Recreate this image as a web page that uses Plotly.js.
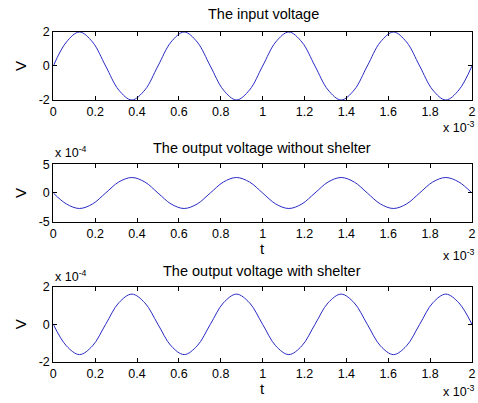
<!DOCTYPE html>
<html><head><meta charset="utf-8">
<script src="https://cdn.plot.ly/plotly-3.0.1.min.js"></script>
<style>html,body{margin:0;padding:0;background:#fff;}#c{width:478px;height:403px;}</style>
</head><body><div id="c"></div>
<script>
// time in units of 10^-3 s
const t = [0,0.0625,0.125,0.1875,0.25,0.3125,0.375,0.4375,0.5,0.5625,0.625,0.6875,0.75,0.8125,0.875,0.9375,1.0,1.0625,1.125,1.1875,1.25,1.3125,1.375,1.4375,1.5,1.5625,1.625,1.6875,1.75,1.8125,1.875,1.9375,2.0];
// input voltage (V)
const vIn = [0,1.41,2,1.41,0,-1.41,-2,-1.41,0,1.41,2,1.41,0,-1.41,-2,-1.41,0,1.41,2,1.41,0,-1.41,-2,-1.41,0,1.41,2,1.41,0,-1.41,-2,-1.41,0];
// output without shelter (units of 10^-4 V)
const vOutNo = [0,-1.91,-2.7,-1.91,0,1.91,2.7,1.91,0,-1.91,-2.7,-1.91,0,1.91,2.7,1.91,0,-1.91,-2.7,-1.91,0,1.91,2.7,1.91,0,-1.91,-2.7,-1.91,0,1.91,2.7,1.91,0];
// output with shelter (units of 10^-4 V)
const vOutSh = [0,-1.15,-1.62,-1.15,0,1.15,1.62,1.15,0,-1.15,-1.62,-1.15,0,1.15,1.62,1.15,0,-1.15,-1.62,-1.15,0,1.15,1.62,1.15,0,-1.15,-1.62,-1.15,0,1.15,1.62,1.15,0];
const xTicks = [0,0.2,0.4,0.6,0.8,1,1.2,1.4,1.6,1.8,2];
const xTickText = ['0','0.2','0.4','0.6','0.8','1','1.2','1.4','1.6','1.8','2'];
const titles = ['The input voltage','The output voltage without shelter','The output voltage with shelter'];

const lineColor = '#2a2ac4';
const fam = 'Liberation Sans, Arial, sans-serif';
const font = {family:fam, size:12.5, color:'#000'};
function tr(y, xa, ya){
  return {x:t, y:y, xaxis:xa, yaxis:ya, type:'scatter', mode:'lines',
    line:{color:lineColor, width:1, shape:'spline'}, hoverinfo:'skip'};
}
const xd = [0.1115, 0.9874];
function xax(anchor){
  return {domain:xd, anchor:anchor, range:[0,2], tickmode:'array', tickvals:xTicks, ticktext:xTickText,
    ticks:'inside', ticklen:4, tickcolor:'#000', showline:true, linecolor:'#000', linewidth:1, mirror:'ticks',
    showgrid:false, zeroline:false, tickfont:font, fixedrange:true};
}
function yax(anchor, dom, lim){
  return {domain:dom, anchor:anchor, range:[-lim,lim], tickmode:'array', tickvals:[-lim,0,lim],
    ticktext:[String(-lim),'0',String(lim)],
    ticks:'inside', ticklen:4, tickcolor:'#000', showline:true, linecolor:'#000', linewidth:1, mirror:'ticks',
    showgrid:false, zeroline:false, tickfont:font, fixedrange:true,
    title:{text:'V', font:{family:fam, size:15, color:'#000'}, standoff:8}};
}
const ann = [];
function a(text, x, y, xanchor, size){
  ann.push({text:text, x:x/478, y:1-y/403, xref:'paper', yref:'paper', xanchor:xanchor||'center', yanchor:'middle',
    showarrow:false, font:{family:fam, size:size||12.5, color:'#000'}});
}
a(titles[0], 263, 14, 'center', 14.5);
a(titles[1], 262, 148, 'center', 14.5);
a(titles[2], 262, 271, 'center', 14.5);
a('x 10<sup>-3</sup>', 441, 127, 'left');
a('x 10<sup>-3</sup>', 441, 255, 'left');
a('x 10<sup>-3</sup>', 441, 391, 'left');
a('x 10<sup>-4</sup>', 53, 152, 'left');
a('x 10<sup>-4</sup>', 53, 276, 'left');
a('t', 262, 248, 'center', 15);
a('t', 262, 388, 'center', 15);

const layout = {
  width:478, height:403, margin:{l:0,r:0,t:0,b:0}, showlegend:false,
  paper_bgcolor:'#fff', plot_bgcolor:'#fff', font:font,
  xaxis:xax('y'), yaxis:yax('x',[0.7519,0.9206],2),
  xaxis2:xax('y2'), yaxis2:yax('x2',[0.4499,0.5923],5),
  xaxis3:xax('y3'), yaxis3:yax('x3',[0.1025,0.2878],2),
  annotations:ann
};
Plotly.newPlot('c',[tr(vIn,'x','y'),tr(vOutNo,'x2','y2'),tr(vOutSh,'x3','y3')],layout,{staticPlot:true});
</script></body></html>
